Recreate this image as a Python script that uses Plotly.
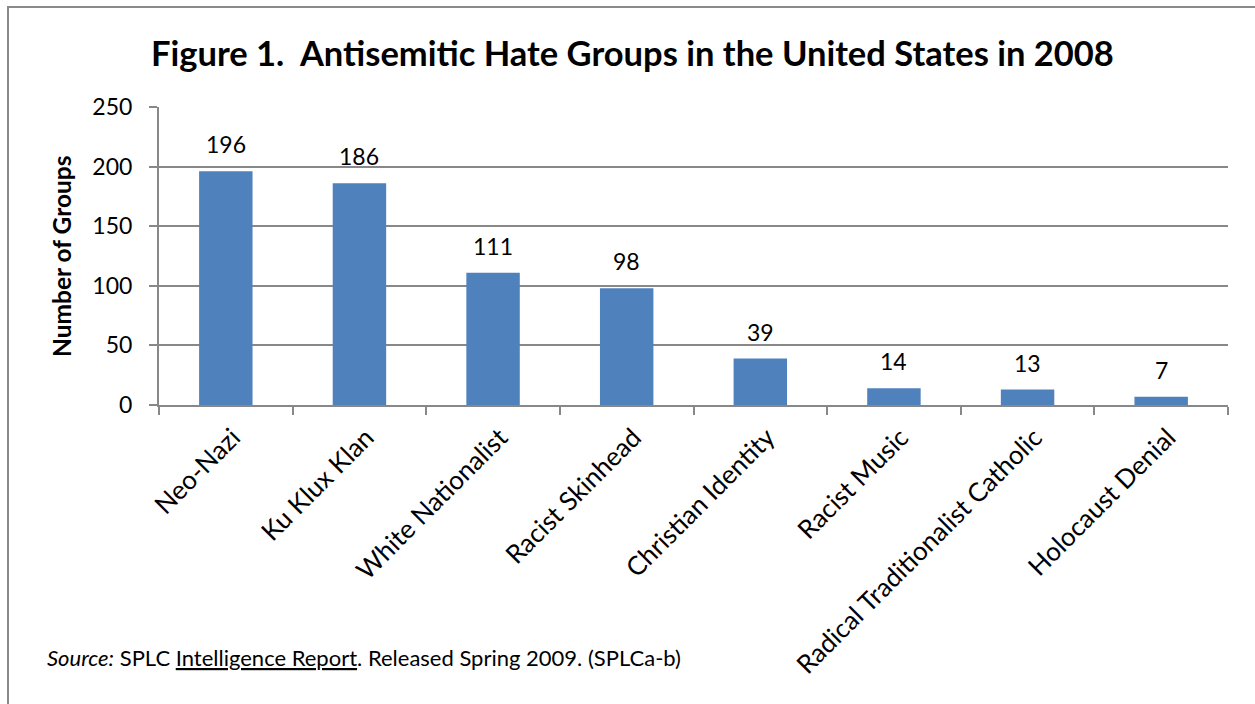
import plotly.graph_objects as go

categories = ["Neo-Nazi", "Ku Klux Klan", "White Nationalist", "Racist Skinhead",
              "Christian Identity", "Racist Music", "Radical Traditionalist Catholic",
              "Holocaust Denial"]
values = [196, 186, 111, 98, 39, 14, 13, 7]
y_ticks = [0, 50, 100, 150, 200, 250]

W, H = 1255, 704
L, R, T, B = 159, 27, 107, 299
FONT = "Lato"
GRID = "#888888"

fig = go.Figure()
fig.add_trace(go.Bar(x=categories, y=values, marker=dict(color="#4F81BD", line=dict(width=0)),
                     width=0.40, hoverinfo="x+y"))

for c, v in zip(categories, values):
    fig.add_annotation(x=c, y=v, text=str(v), showarrow=False, yanchor="bottom",
                       yshift=11, font=dict(family=FONT, size=23, color="#000"))

pw, ph = W - L - R, H - T - B
def px_x(p):
    return (p - L) / pw
def px_y(p):
    return (H - B - p) / ph

fig.add_shape(type="rect", xref="paper", yref="paper",
              x0=px_x(8), x1=px_x(1265), y0=px_y(714), y1=px_y(7),
              line=dict(color="#8a8a8a", width=2), fillcolor="rgba(0,0,0,0)", layer="below")

fig.add_annotation(xref="paper", yref="paper", x=px_x(632), y=px_y(53),
                   text="<b>Figure 1.\u00a0 Antisemitic Hate Groups in the United States in 2008</b>",
                   showarrow=False, xanchor="center", yanchor="middle",
                   font=dict(family=FONT, size=34.5, color="#000"))

fig.add_annotation(xref="paper", yref="paper", x=px_x(45), y=px_y(657),
                   text="<i>Source:</i> SPLC <u>Intelligence Report</u>. Released Spring 2009. (SPLCa-b)",
                   showarrow=False, xanchor="left", yanchor="middle",
                   font=dict(family=FONT, size=22, color="#000"))

fig.add_annotation(xref="paper", yref="paper", x=px_x(61), y=px_y(256),
                   text="<b>Number of Groups</b>", textangle=-90,
                   showarrow=False, xanchor="center", yanchor="middle",
                   font=dict(family=FONT, size=24.5, color="#000"))

fig.update_layout(
    width=W, height=H,
    margin=dict(l=L, r=R, t=T, b=B, autoexpand=False),
    paper_bgcolor="white", plot_bgcolor="white",
    showlegend=False,
    font=dict(family=FONT, color="#000"),
    xaxis=dict(type="category", tickangle=-45, ticks="outside", tickson="boundaries",
               ticklen=8, tickcolor=GRID, tickwidth=2, showline=True, linecolor=GRID,
               linewidth=2, showgrid=False, tickfont=dict(family=FONT, size=26, color="#000"),
               ticklabelshift=7, ticklabelstandoff=5,
               range=[-0.5, len(categories) - 0.5]),
    yaxis=dict(range=[0, 250], tickvals=y_ticks, ticks="outside", ticklen=8,
               tickcolor=GRID, tickwidth=2, showline=True, linecolor=GRID, linewidth=2,
               showgrid=True, gridcolor=GRID, gridwidth=2, zeroline=False,
               ticklabelstandoff=12,
               tickfont=dict(family=FONT, size=23, color="#000")),
)

fig.write_html("out.html")
